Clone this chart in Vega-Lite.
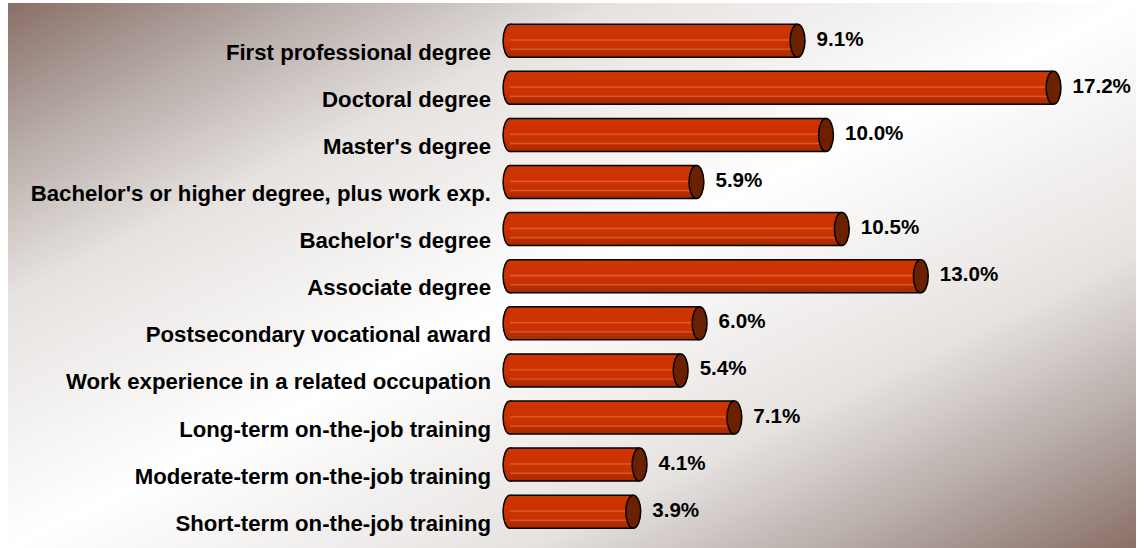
{
  "$schema": "https://vega.github.io/schema/vega-lite/v6.json",
  "width": 1128,
  "height": 545,
  "autosize": "none",
  "padding": {"left": 8, "top": 3, "right": 9, "bottom": 0},
  "background": "#ffffff",
  "config": {
    "view": {
      "stroke": null,
      "fill": {
        "gradient": "linear",
        "x1": 0, "y1": 0, "x2": 1, "y2": 1,
        "stops": [
          {"offset": 0, "color": "#8a6f67"},
          {"offset": 0.13, "color": "#b5aaa6"},
          {"offset": 0.27, "color": "#e6e2e0"},
          {"offset": 0.5, "color": "#ffffff"},
          {"offset": 0.73, "color": "#e6e2e0"},
          {"offset": 0.87, "color": "#b5aaa6"},
          {"offset": 1, "color": "#8a6f67"}
        ]
      }
    },
    "text": {"font": "Liberation Sans", "fontWeight": "bold", "color": "#000000"}
  },
  "data": {
    "values": [
      {"category": "First professional degree", "pct": 0.091},
      {"category": "Doctoral degree", "pct": 0.172},
      {"category": "Master's degree", "pct": 0.100},
      {"category": "Bachelor's or higher degree, plus work exp.", "pct": 0.059},
      {"category": "Bachelor's degree", "pct": 0.105},
      {"category": "Associate degree", "pct": 0.130},
      {"category": "Postsecondary vocational award", "pct": 0.060},
      {"category": "Work experience in a related occupation", "pct": 0.054},
      {"category": "Long-term on-the-job training", "pct": 0.071},
      {"category": "Moderate-term on-the-job training", "pct": 0.041},
      {"category": "Short-term on-the-job training", "pct": 0.039}
    ]
  },
  "encoding": {
    "y": {
      "field": "category", "type": "nominal", "sort": null,
      "scale": {"range": [14.15, 532.25], "paddingInner": 0, "paddingOuter": 0},
      "axis": null
    }
  },
  "layer": [
    {
      "mark": {
        "type": "point", "filled": true, "size": 1089,
        "shape": "M0,-1A0.42,1,0,1,1,0,1A0.42,1,0,1,1,0,-1Z",
        "opacity": 1,
        "fill": {
          "gradient": "linear", "x1": 0, "y1": 0, "x2": 0, "y2": 1,
          "stops": [
            {"offset": 0, "color": "#c83000"},
            {"offset": 0.5, "color": "#cc3300"},
            {"offset": 1, "color": "#b02a00"}
          ]
        },
        "stroke": "#000000", "strokeWidth": 1.5
      },
      "encoding": {
        "x": {"datum": 0, "type": "quantitative", "scale": {"domain": [-0.15886, 0.1981], "nice": false, "zero": false}, "axis": null}
      }
    },
    {
      "mark": {
        "type": "bar", "height": 33,
        "fill": {
          "gradient": "linear", "x1": 0, "y1": 0, "x2": 0, "y2": 1,
          "stops": [
            {"offset": 0, "color": "#c02e00"},
            {"offset": 0.08, "color": "#d03800"},
            {"offset": 0.14, "color": "#cc3300"},
            {"offset": 0.44, "color": "#cc3300"},
            {"offset": 0.48, "color": "#e05f38"},
            {"offset": 0.52, "color": "#cc3300"},
            {"offset": 0.72, "color": "#c63200"},
            {"offset": 0.76, "color": "#dc5a33"},
            {"offset": 0.8, "color": "#ba2e00"},
            {"offset": 1, "color": "#a82800"}
          ]
        },
        "stroke": null
      },
      "encoding": {
        "x": {"field": "pct", "type": "quantitative"},
        "x2": {"datum": 0}
      }
    },
    {
      "mark": {"type": "rule", "stroke": "#000000", "strokeWidth": 1.5, "yOffset": -16.5},
      "encoding": {
        "x": {"field": "pct", "type": "quantitative"},
        "x2": {"datum": 0}
      }
    },
    {
      "mark": {"type": "rule", "stroke": "#000000", "strokeWidth": 1.5, "yOffset": 16.5},
      "encoding": {
        "x": {"field": "pct", "type": "quantitative"},
        "x2": {"datum": 0}
      }
    },
    {
      "mark": {
        "type": "point", "filled": true, "size": 1089, "opacity": 1,
        "shape": "M0,-1A0.45,1,0,1,1,0,1A0.45,1,0,1,1,0,-1Z",
        "fill": "#6b2000", "stroke": "#000000", "strokeWidth": 1.5
      },
      "encoding": {
        "x": {"field": "pct", "type": "quantitative"}
      }
    },
    {
      "mark": {"type": "text", "align": "left", "baseline": "middle", "dx": 19, "dy": -1, "fontSize": 20.6},
      "encoding": {
        "x": {"field": "pct", "type": "quantitative"},
        "text": {"field": "pct", "type": "quantitative", "format": ".1%"}
      }
    },
    {
      "mark": {"type": "text", "align": "right", "baseline": "middle", "dx": -19, "dy": 12, "fontSize": 22.2},
      "encoding": {
        "x": {"datum": 0, "type": "quantitative"},
        "text": {"field": "category", "type": "nominal"}
      }
    }
  ]
}
